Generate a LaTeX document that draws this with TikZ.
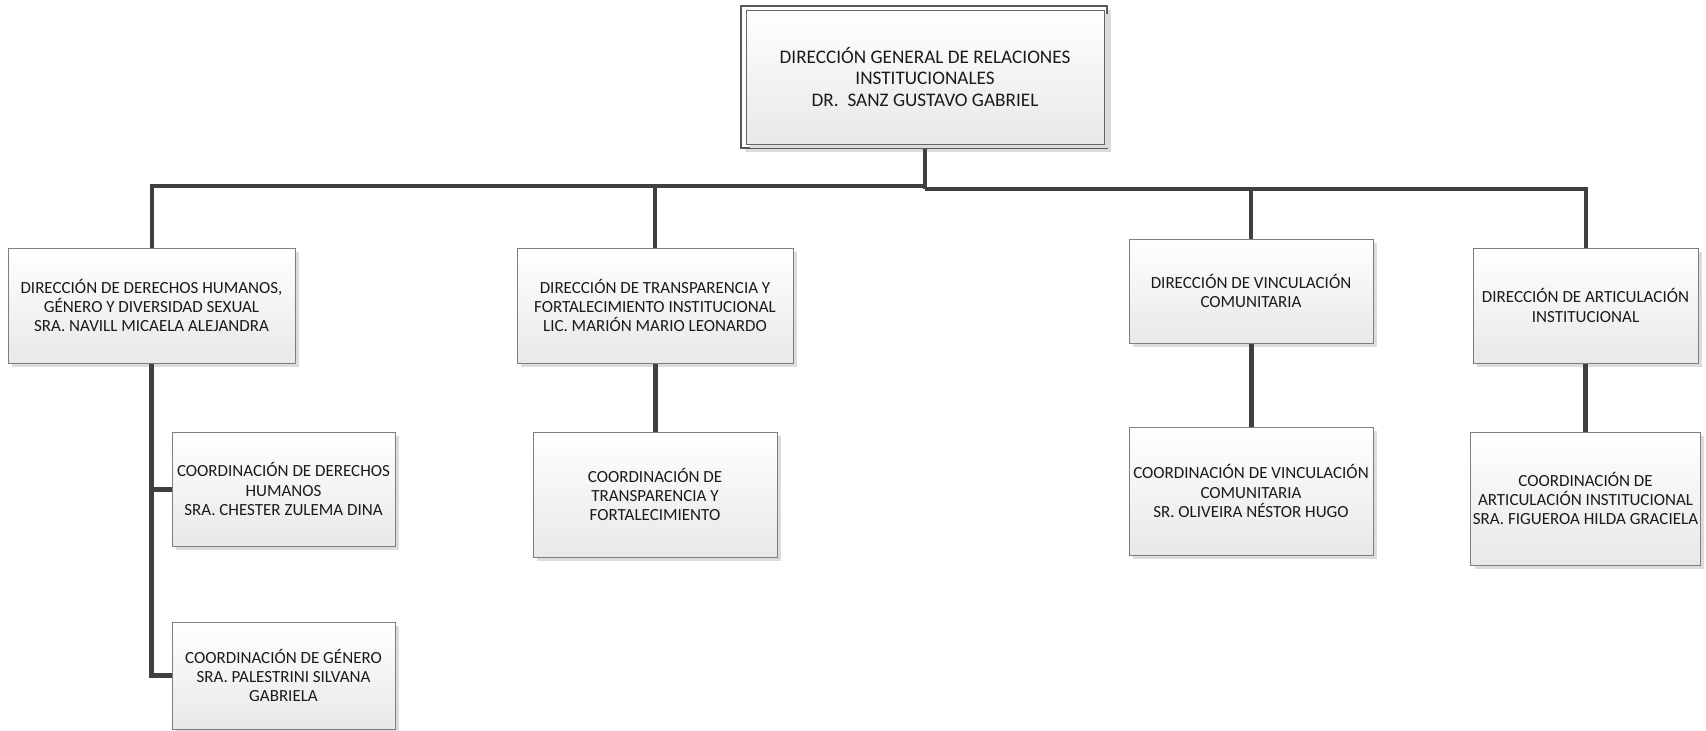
\documentclass[tikz,border=0pt]{standalone}
\usepackage{fontspec}
\setmainfont{Carlito}
\usetikzlibrary{shadows}
\definecolor{ink}{HTML}{1A1A1A}
\definecolor{wire}{HTML}{404040}
\definecolor{edge}{HTML}{7E7E7E}
\definecolor{shade}{HTML}{DCDCDC}
\tikzset{
  x=1pt, y=-1pt,
  unitbox/.style={draw=edge, line width=1pt, top color=white, bottom color=black!9,
    align=center, text=ink, inner sep=2pt,
    font=\fontsize{17}{19.4}\selectfont,
    drop shadow={shadow xshift=4pt, shadow yshift=-4pt, fill=shade, opacity=1}},
  headframe/.style={draw=edge!70!black, line width=1.1pt, fill=white,
    drop shadow={shadow xshift=4pt, shadow yshift=-4pt, fill=shade, opacity=1}},
  bus/.style={draw=wire, line width=4pt},
  link/.style={draw=wire, line width=5pt},
}
\begin{document}
\begin{tikzpicture}
\useasboundingbox (0,0) rectangle (1706,731);

% head office with its double frame
\node[headframe, minimum width=366pt, minimum height=142pt] (topframe) at (924,77) {};
\node[unitbox, drop shadow/.code={}, font=\fontsize{19.2}{21.7}\selectfont,
      minimum width=358pt, minimum height=134pt, draw=edge!80!black] (top) at (925,77)
  {DIRECCIÓN GENERAL DE RELACIONES\\INSTITUCIONALES\\DR.~ SANZ GUSTAVO GABRIEL};

% directorates
\node[unitbox, minimum width=287pt, minimum height=115pt] (b1) at (151.5,305.5)
  {DIRECCIÓN DE DERECHOS HUMANOS,\\GÉNERO Y DIVERSIDAD SEXUAL\\SRA. NAVILL MICAELA ALEJANDRA};
\node[unitbox, minimum width=276pt, minimum height=115pt] (b2) at (655,305.5)
  {DIRECCIÓN DE TRANSPARENCIA Y\\FORTALECIMIENTO INSTITUCIONAL\\LIC. MARIÓN MARIO LEONARDO};
\node[unitbox, minimum width=244pt, minimum height=104pt] (b3) at (1251,291)
  {DIRECCIÓN DE VINCULACIÓN\\COMUNITARIA};
\node[unitbox, minimum width=225pt, minimum height=115pt] (b4) at (1585.5,305.5)
  {DIRECCIÓN DE ARTICULACIÓN\\INSTITUCIONAL};

% coordinations
\node[unitbox, minimum width=223pt, minimum height=114pt] (c1a) at (283.5,489)
  {COORDINACIÓN DE DERECHOS\\HUMANOS\\SRA. CHESTER ZULEMA DINA};
\node[unitbox, minimum width=223pt, minimum height=107pt] (c1b) at (283.5,675.5)
  {COORDINACIÓN DE GÉNERO\\SRA. PALESTRINI SILVANA\\GABRIELA};
\node[unitbox, minimum width=244pt, minimum height=125pt] (c2) at (655,494.5)
  {COORDINACIÓN DE\\TRANSPARENCIA Y\\FORTALECIMIENTO};
\node[unitbox, minimum width=244pt, minimum height=128pt] (c3) at (1251,491)
  {COORDINACIÓN DE VINCULACIÓN\\COMUNITARIA\\SR. OLIVEIRA NÉSTOR HUGO};
\node[unitbox, minimum width=225pt, minimum height=133pt] (c4) at (1585.5,498.5)
  {COORDINACIÓN DE\\ARTICULACIÓN INSTITUCIONAL\\SRA. FIGUEROA HILDA GRACIELA};

% main bus
\coordinate (jL) at (top.south |- 0,186);
\coordinate (jR) at (top.south |- 0,189);
\draw[bus] (top.south |- topframe.south) -- (jR);
\draw[bus] (jL) -| (b1.north);
\draw[bus] (jL) -| (b2.north);
\draw[bus] (jR) -| (b3.north);
\draw[bus] (jR) -| (b4.north);

% links to coordinations
\draw[link] (b1.south) |- (c1a.west);
\draw[link] (b1.south) |- (c1b.west);
\draw[link] (b2.south) -- (c2.north);
\draw[link] (b3.south) -- (c3.north);
\draw[link] (b4.south) -- (c4.north);
\end{tikzpicture}
\end{document}
